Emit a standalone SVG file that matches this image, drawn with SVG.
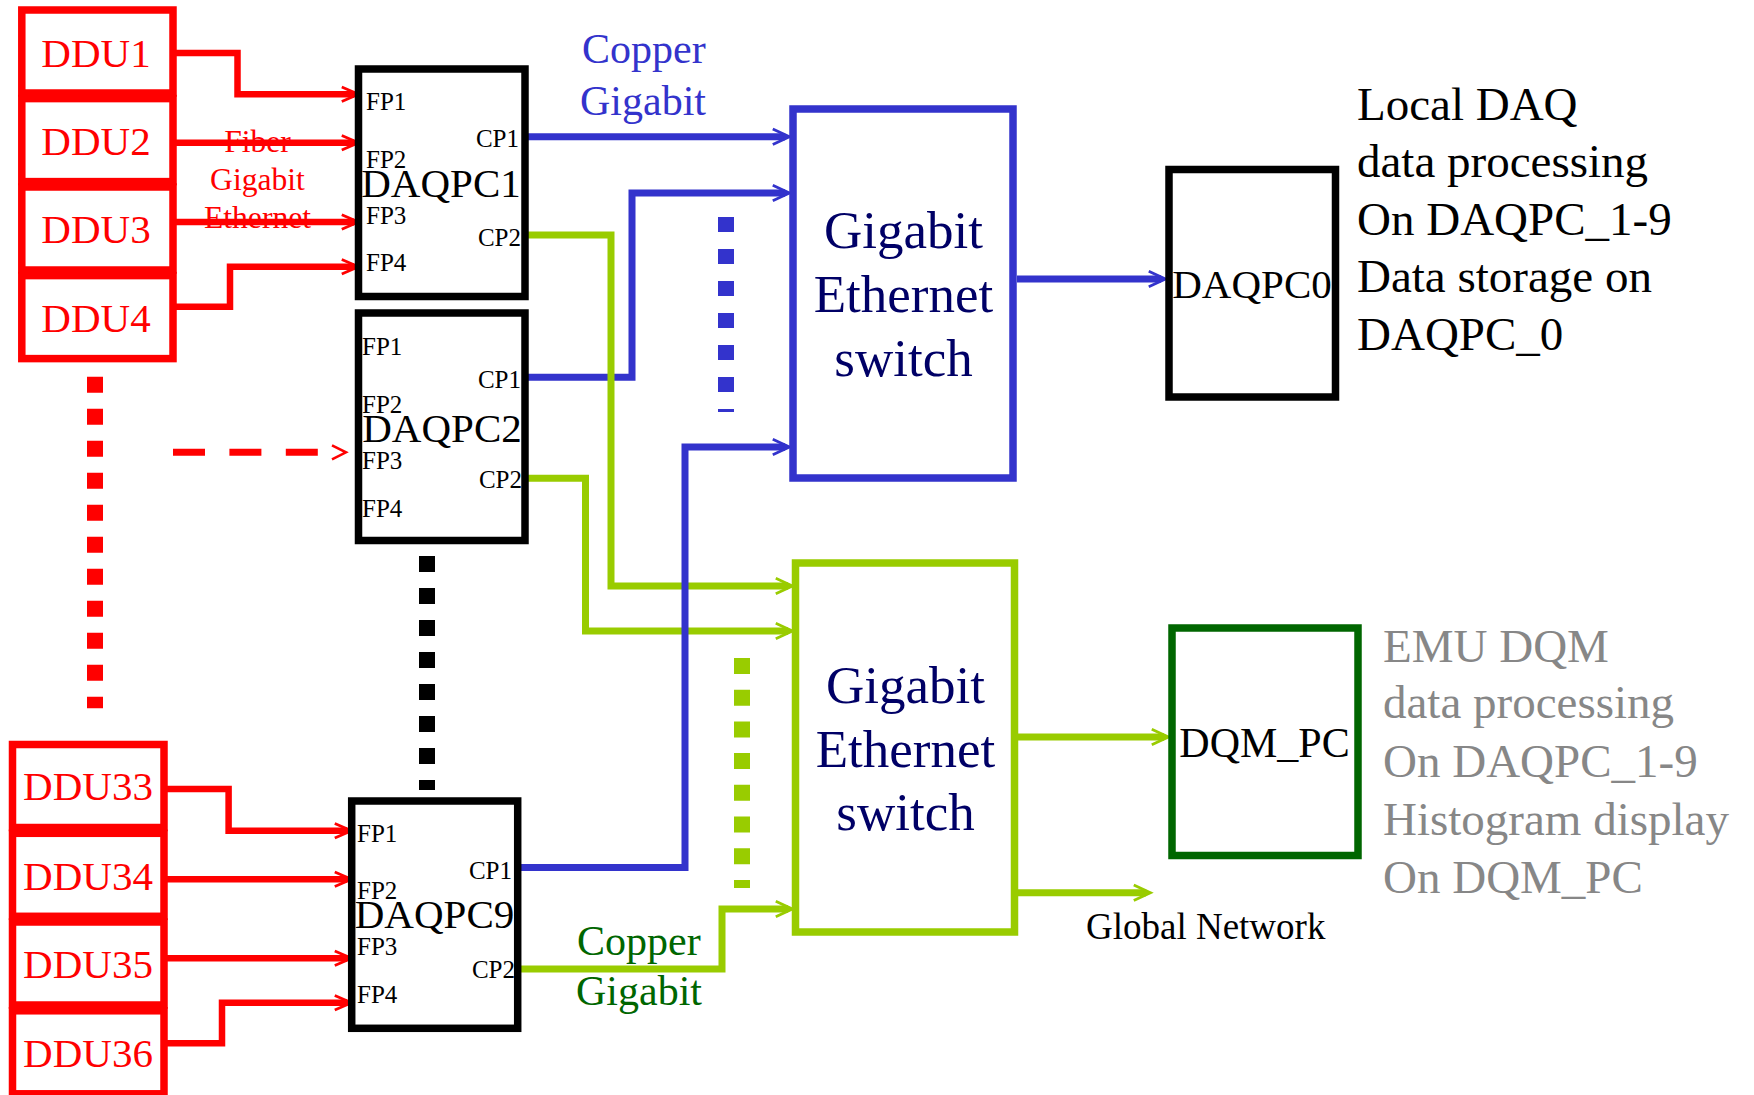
<svg xmlns="http://www.w3.org/2000/svg" width="1754" height="1095" viewBox="0 0 1754 1095">
<defs>
<style>
text{font-family:"Liberation Serif","Times New Roman",serif;}
.box{fill:none;stroke-width:7.5;}
.red{stroke:#FF0000;}
.blk{stroke:#000000;}
.ddu{font-size:41px;fill:#FF0000;text-anchor:middle;}
.port{font-size:25px;fill:#000000;}
.portr{font-size:25px;fill:#000000;text-anchor:end;}
.pcl{font-size:41px;fill:#000000;text-anchor:middle;}
.sw{font-size:53px;fill:#000066;text-anchor:middle;}
.ln{fill:none;stroke-width:7;stroke-linejoin:miter;stroke-linecap:butt;}
.lr{stroke:#FF0000;stroke-width:6.5;marker-end:url(#ar-red);}
.lb{stroke:#3333CC;marker-end:url(#ar-blue);}
.lg{stroke:#99CC00;marker-end:url(#ar-green);}
.dots{fill:none;stroke-width:16;}
.note{font-size:47px;}
</style>
<marker id="ar-red" markerUnits="userSpaceOnUse" markerWidth="24" markerHeight="20" viewBox="-13 -9 19 18" refX="0" refY="0" orient="auto" overflow="visible">
<path d="M-11,-6.5 L4,0 L-11,6.5" fill="none" stroke="#FF0000" stroke-width="2.5"/>
<path d="M-1,-3.3 L4,0 L-1,3.3 z" fill="#FF0000"/>
</marker>
<marker id="ar-blue" markerUnits="userSpaceOnUse" markerWidth="24" markerHeight="20" viewBox="-13 -9 19 18" refX="0" refY="0" orient="auto" overflow="visible">
<path d="M-11,-7 L4,0 L-11,7" fill="none" stroke="#3333CC" stroke-width="2.5"/>
<path d="M-1,-3.5 L4,0 L-1,3.5 z" fill="#3333CC"/>
</marker>
<marker id="ar-green" markerUnits="userSpaceOnUse" markerWidth="24" markerHeight="20" viewBox="-13 -9 19 18" refX="0" refY="0" orient="auto" overflow="visible">
<path d="M-11,-7 L4,0 L-11,7" fill="none" stroke="#99CC00" stroke-width="2.5"/>
<path d="M-1,-3.5 L4,0 L-1,3.5 z" fill="#99CC00"/>
</marker>
</defs>
<rect x="0" y="0" width="1754" height="1095" fill="#FFFFFF"/>

<g id="connectors">
<!-- red fiber links -->
<path class="ln lr" d="M173,53 H237.5 V94.3 H354"/>
<path class="ln lr" d="M173,142.7 H354"/>
<path class="ln lr" d="M173,222 H354"/>
<path class="ln lr" d="M173,306.7 H230 V266.7 H354"/>
<path class="ln" stroke="#FF0000" stroke-width="7" stroke-dasharray="32 24.4" d="M173,452.3 H318"/>
<path d="M332,445.3 L346,452.3 L332,459.3" fill="none" stroke="#FF0000" stroke-width="2.5"/>
<path class="ln lr" d="M164,789 H228.6 V830.7 H347"/>
<path class="ln lr" d="M164,879.3 H347"/>
<path class="ln lr" d="M164,958.3 H347"/>
<path class="ln lr" d="M164,1043.3 H222 V1002.7 H347"/>
<!-- copper links -->
<path class="ln lb" d="M525,136.7 H785"/>
<path class="ln lb" d="M525,377.3 H632 V193 H785"/>
<path class="ln lg" d="M525,235 H611 V586 H788"/>
<path class="ln lg" d="M525,478.3 H585.5 V631 H788"/>
<path class="ln lb" d="M518,867.5 H685 V447 H785"/>
<path class="ln lg" d="M518,969 H722 V909 H788"/>
<path class="ln lb" d="M1017,279 H1161"/>
<path class="ln lg" d="M1018,737 H1164"/>
<path class="ln lg" d="M1018,892.7 H1146"/>
</g>

<g id="ellipses">
<path class="dots" stroke="#FF0000" stroke-dasharray="16 16" d="M95,376.7 V708.3"/>
<path class="dots" stroke="#000000" stroke-dasharray="16 16" d="M427,556 V790"/>
<path class="dots" stroke="#3333CC" stroke-dasharray="15 17" d="M726,217 V412"/>
<path class="dots" stroke="#99CC00" stroke-dasharray="16 15.7" d="M742,658 V888"/>
</g>

<g id="ddu1"><rect class="box red" x="21.8" y="10" width="151.2" height="83"/><text class="ddu" x="96" y="66.7">DDU1</text></g>
<g id="ddu2"><rect class="box red" x="21.8" y="98.6" width="151.2" height="83"/><text class="ddu" x="96" y="155">DDU2</text></g>
<g id="ddu3"><rect class="box red" x="21.8" y="187" width="151.2" height="83"/><text class="ddu" x="96" y="243.3">DDU3</text></g>
<g id="ddu4"><rect class="box red" x="21.8" y="275.6" width="151.2" height="83"/><text class="ddu" x="96" y="332.3">DDU4</text></g>

<g id="ddu33"><rect class="box red" x="12.5" y="744.5" width="151.5" height="83"/><text class="ddu" x="88" y="800">DDU33</text></g>
<g id="ddu34"><rect class="box red" x="12.5" y="833.3" width="151.5" height="83"/><text class="ddu" x="88" y="890">DDU34</text></g>
<g id="ddu35"><rect class="box red" x="12.5" y="922" width="151.5" height="83"/><text class="ddu" x="88" y="977.7">DDU35</text></g>
<g id="ddu36"><rect class="box red" x="12.5" y="1010.8" width="151.5" height="83"/><text class="ddu" x="88" y="1066.7">DDU36</text></g>

<g id="fiber-label" font-size="31.6" fill="#FF0000" text-anchor="middle">
<text x="257.5" y="151.7">Fiber</text>
<text x="257.5" y="190">Gigabit</text>
<text x="257.5" y="228">Ethernet</text>
</g>

<g id="daqpc1">
<rect class="box blk" x="358.5" y="69" width="166.5" height="227.5"/>
<text class="port" x="366" y="110">FP1</text>
<text class="port" x="366" y="168">FP2</text>
<text class="port" x="366" y="224">FP3</text>
<text class="port" x="366" y="270.7">FP4</text>
<text class="portr" x="519" y="146.7">CP1</text>
<text class="portr" x="521" y="246">CP2</text>
<text class="pcl" x="441" y="196.7">DAQPC1</text>
</g>

<g id="daqpc2">
<rect class="box blk" x="358.5" y="313" width="166.5" height="227.5"/>
<text class="port" x="362" y="355">FP1</text>
<text class="port" x="362" y="413">FP2</text>
<text class="port" x="362" y="469">FP3</text>
<text class="port" x="362" y="517.3">FP4</text>
<text class="portr" x="521" y="388">CP1</text>
<text class="portr" x="522" y="488.3">CP2</text>
<text class="pcl" x="442" y="441.7">DAQPC2</text>
</g>

<g id="daqpc9">
<rect class="box blk" x="351.7" y="801" width="166" height="227.3"/>
<text class="port" x="357" y="841.7">FP1</text>
<text class="port" x="357" y="899.3">FP2</text>
<text class="port" x="357" y="955">FP3</text>
<text class="port" x="357" y="1003.3">FP4</text>
<text class="portr" x="512" y="879.3">CP1</text>
<text class="portr" x="515" y="978.3">CP2</text>
<text class="pcl" x="434.5" y="928.3">DAQPC9</text>
</g>

<g id="copper-label-top" font-size="42" fill="#3333CC">
<text x="582" y="63">Copper</text>
<text x="580" y="115">Gigabit</text>
</g>

<g id="copper-label-bottom" font-size="42" fill="#006600">
<text x="577" y="955">Copper</text>
<text x="576" y="1005">Gigabit</text>
</g>

<g id="switch1">
<rect class="box" stroke="#3333CC" x="793" y="109" width="220" height="369"/>
<text class="sw" x="903.5" y="248">Gigabit</text>
<text class="sw" x="903.5" y="312">Ethernet</text>
<text class="sw" x="903.5" y="376">switch</text>
</g>

<g id="switch2">
<rect class="box" stroke="#99CC00" x="795.5" y="563" width="219" height="369"/>
<text class="sw" x="905.5" y="703">Gigabit</text>
<text class="sw" x="905.5" y="767">Ethernet</text>
<text class="sw" x="905.5" y="830">switch</text>
</g>

<g id="daqpc0">
<rect class="box blk" x="1169" y="169.5" width="166.5" height="227.5"/>
<text class="pcl" x="1252" y="298">DAQPC0</text>
</g>

<g id="dqm_pc">
<rect class="box" stroke="#006600" x="1172" y="628" width="186" height="227.5"/>
<text x="1264.5" y="756.7" font-size="42" fill="#000000" text-anchor="middle">DQM_PC</text>
</g>

<g id="global-network">
<text x="1086" y="939.3" font-size="37" fill="#000000">Global Network</text>
</g>

<g id="daq-note" class="note" fill="#000000">
<text class="note" x="1357" y="120">Local DAQ</text>
<text class="note" x="1357" y="177">data processing</text>
<text class="note" x="1357" y="235">On DAQPC_1-9</text>
<text class="note" x="1357" y="292">Data storage on</text>
<text class="note" x="1357" y="350">DAQPC_0</text>
</g>

<g id="dqm-note" fill="#878787">
<text class="note" x="1383" y="661.7">EMU DQM</text>
<text class="note" x="1383" y="718.3">data processing</text>
<text class="note" x="1383" y="776.7">On DAQPC_1-9</text>
<text class="note" x="1383" y="835">Histogram display</text>
<text class="note" x="1383" y="893.3">On DQM_PC</text>
</g>
</svg>
